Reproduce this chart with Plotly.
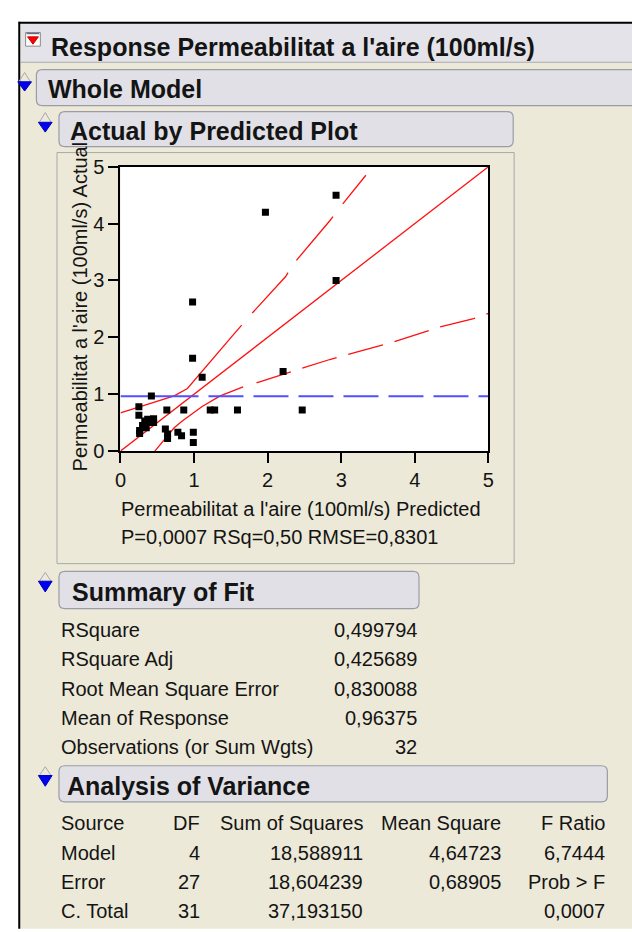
import plotly.graph_objects as go

W, H = 632, 932
FONT = "Liberation Sans, Arial, sans-serif"
TXT = "#141414"

# ---------------- data ----------------
predicted = [2.93, 1.97, 2.93, 0.98, 0.98, 1.11, 2.21, 2.47, 1.59, 1.22, 1.28,
             0.86, 0.63, 0.42, 0.25, 0.25, 0.37, 0.33, 0.40, 0.45, 0.26, 0.26,
             0.35, 0.30, 0.61, 0.64, 0.64, 0.78, 0.83, 0.99, 0.99, 0.45]
actual = [4.50, 4.20, 3.00, 2.62, 1.63, 1.30, 1.40, 0.72, 0.72, 0.72, 0.72,
          0.72, 0.72, 0.97, 0.78, 0.63, 0.56, 0.53, 0.50, 0.57, 0.36, 0.31,
          0.41, 0.45, 0.39, 0.30, 0.22, 0.33, 0.27, 0.33, 0.15, 0.50]

fit_x = [0, 5]
fit_y = [0, 5]
mean_response = 0.96375
mean_x = [0, 5]

upper_x = [0.0, 0.29, 0.51, 0.73, 0.91, 1.04, 1.11, 1.33, 1.55, 1.765, 2.245,
           2.356, 2.845, 2.98, 3.335]
upper_y = [0.67, 0.785, 0.88, 0.97, 1.10, 1.30, 1.41, 1.73, 2.07, 2.39, 3.07,
           3.30, 4.05, 4.28, 4.85]
lower_x = [0.467, 0.73, 0.84, 1.11, 1.355, 1.67, 1.87, 2.31, 2.49, 2.845, 3.69,
           4.36, 4.80, 5.0]
lower_y = [0.0, 0.41, 0.53, 0.785, 0.97, 1.13, 1.21, 1.385, 1.46, 1.61, 1.91,
           2.19, 2.33, 2.42]

tick_vals = [0, 1, 2, 3, 4, 5]
tick_text = ["0", "1", "2", "3", "4", "5"]

x_title = "Permeabilitat a l'aire (100ml/s) Predicted"
y_title = "Permeabilitat a l'aire (100ml/s) Actual"
stat_line = "P=0,0007 RSq=0,50 RMSE=0,8301"

summary_labels = ["RSquare", "RSquare Adj", "Root Mean Square Error",
                  "Mean of Response", "Observations (or Sum Wgts)"]
summary_values = ["0,499794", "0,425689", "0,830088", "0,96375", "32"]

anova_header = ["Source", "DF", "Sum of Squares", "Mean Square", "F Ratio"]
anova_source = ["Model", "Error", "C. Total"]
anova_df = ["4", "27", "31"]
anova_ss = ["18,588911", "18,604239", "37,193150"]
anova_ms = ["4,64723", "0,68905", ""]
anova_f = ["6,7444", "Prob > F", "0,0007"]

# ---------------- helpers (page pixel -> paper) ----------------
def px(x):
    return x / W


def py(y):
    return 1 - y / H


def rect(x0, y0, x1, y1, fill=None, line=None, lw=1):
    return dict(type="rect", xref="paper", yref="paper", layer="below",
                x0=px(x0), x1=px(x1), y0=py(y1), y1=py(y0),
                fillcolor=fill if fill else "rgba(0,0,0,0)",
                line=dict(color=line if line else "rgba(0,0,0,0)", width=lw if line else 0))


def seg(x0, y0, x1, y1, color, lw=1):
    return dict(type="line", xref="paper", yref="paper", layer="below",
                x0=px(x0), x1=px(x1), y0=py(y0), y1=py(y1),
                line=dict(color=color, width=lw))


def rounded(x0, y0, x1, y1, r=6, fill="#E0E0E6", line="#9C9CA6"):
    def P(x, y):
        return f"{px(x):.5f},{py(y):.5f}"
    path = (f"M{P(x0 + r, y0)} L{P(x1 - r, y0)} Q{P(x1, y0)} {P(x1, y0 + r)} "
            f"L{P(x1, y1 - r)} Q{P(x1, y1)} {P(x1 - r, y1)} L{P(x0 + r, y1)} "
            f"Q{P(x0, y1)} {P(x0, y1 - r)} L{P(x0, y0 + r)} Q{P(x0, y0)} {P(x0 + r, y0)} Z")
    return dict(type="path", xref="paper", yref="paper", layer="below", path=path,
                fillcolor=fill, line=dict(color=line, width=1.2))


def poly(pts, fill, line=None, lw=1, close=True):
    d = "M" + " L".join(f"{px(x):.5f},{py(y):.5f}" for x, y in pts) + (" Z" if close else "")
    return dict(type="path", xref="paper", yref="paper", layer="below", path=d,
                fillcolor=fill if fill else "rgba(0,0,0,0)",
                line=dict(color=line if line else "rgba(0,0,0,0)", width=lw if line else 0))


def disclosure(cx, top, mid, bottom):
    return [
        poly([(cx - 6, mid), (cx, top), (cx + 6, mid)], None, "#A8A8B0", 1, close=False),
        poly([(cx - 7, mid), (cx + 7, mid), (cx, bottom)], "#0000F0", "#0000C0", 1),
    ]


def txt(x, y, s, size=20, bold=False, anchor="left", angle=0, yanchor="middle"):
    return dict(x=px(x), y=py(y), xref="paper", yref="paper",
                text=f"<b>{s}</b>" if bold else s, showarrow=False,
                xanchor=anchor, yanchor=yanchor, textangle=angle,
                font=dict(family=FONT, size=size, color=TXT))


# plot pixel area (page coordinates)
PX0, PX1 = 116.7, 491.7
PY0, PY1 = 159.5, 450.7

shapes = [
    rect(14, 12, 640, 940, fill="#ECE9D8"),
    rect(15, 13, 640, 52, fill="#E3E3E9"),
    seg(15, 52.5, 640, 52.5, "#A8A8B0", 1),
    seg(13, 12, 640, 12, "#000000", 2),
    seg(13.5, 11, 13.5, 940, "#000000", 2),
    # response icon
    rect(20, 22, 35, 36, fill="#FFFFFF", line="#8A8A8A", lw=1),
    seg(21, 23, 34, 23, "#6A6A80", 1.5),
    poly([(22, 26.5), (33, 26.5), (27.5, 34)], "#FF0000", "#D00000", 1),
    rounded(31, 60, 660, 97),
    rounded(54, 103, 517, 139),
    rect(52, 145, 518, 566, line="#A8A8A8", lw=1),
    rect(PX0, PY0, PX1, PY1, fill="#FFFFFF"),
    rounded(54, 574, 421, 612),
    rounded(54, 773, 613, 810),
]
shapes += disclosure(19, 63, 72.5, 82)
shapes += disclosure(40, 104, 114, 124)
shapes += disclosure(40, 575, 584, 595)
shapes += disclosure(40, 774, 783, 794)

annotations = [
    txt(44, 37, "Response Permeabilitat a l'aire (100ml/s)", 25, True),
    txt(41, 80, "Whole Model", 25, True),
    txt(63, 122.5, "Actual by Predicted Plot", 25, True),
    txt(65, 595, "Summary of Fit", 25, True),
    txt(60, 794, "Analysis of Variance", 25, True),
    txt(115.5, 510, x_title),
    txt(115.5, 539, stat_line),
    txt(75, 474, y_title, angle=-90, anchor="center", yanchor="bottom"),
]

for i, (lab, val) in enumerate(zip(summary_labels, summary_values)):
    y = 634 + 30 * i
    annotations.append(txt(54, y, lab))
    annotations.append(txt(421, y, val, anchor="right"))

col_right = [None, 200, 366, 507, 613]
y0 = 832
annotations.append(txt(54, y0, anova_header[0]))
for j in range(1, 5):
    annotations.append(txt(col_right[j], y0, anova_header[j], anchor="right"))
for i in range(3):
    y = y0 + 30 * (i + 1)
    annotations.append(txt(54, y, anova_source[i]))
    for j, col in zip(range(1, 5), [anova_df, anova_ss, anova_ms, anova_f]):
        if col[i]:
            annotations.append(txt(col_right[j], y, col[i], anchor="right"))

fig = go.Figure()
fig.add_trace(go.Scatter(x=upper_x, y=upper_y, mode="lines", hoverinfo="skip",
                         line=dict(color="#FF1010", width=1.3,
                                   dash="155px,16px,54px,15px,57px,16px,60px,20px")))
fig.add_trace(go.Scatter(x=lower_x, y=lower_y, mode="lines", hoverinfo="skip",
                         line=dict(color="#FF1010", width=1.3,
                                   dash="111px,14px,36px,12px,36px,12px,36px,12px,36px,12px,36px,12px,36px,12px,36px,12px")))
fig.add_trace(go.Scatter(x=fit_x, y=fit_y, mode="lines", hoverinfo="skip",
                         line=dict(color="#FF1010", width=1.3)))
fig.add_trace(go.Scatter(x=mean_x, y=[mean_response] * len(mean_x), mode="lines",
                         hoverinfo="skip",
                         line=dict(color="#5050FF", width=2.2,
                                   dash="78px,10px,35px,10px,35px,10px,35px,10px,35px,10px,35px,10px,35px,10px,35px,10px")))
fig.add_trace(go.Scatter(x=predicted, y=actual, mode="markers",
                         marker=dict(symbol="square", size=7, color="#000000",
                                     line=dict(width=0))))

axis_common = dict(range=[0, 5], tickvals=tick_vals, ticktext=tick_text,
                   showline=True, mirror=True, linecolor="#000000", linewidth=2,
                   ticks="outside", ticklen=10, tickwidth=1.5, tickcolor="#000000",
                   showgrid=False, zeroline=False, fixedrange=True,
                   tickfont=dict(family=FONT, size=20, color=TXT))

fig.update_layout(
    width=W, height=H, margin=dict(l=0, r=0, t=0, b=0),
    paper_bgcolor="#FFFFFF", plot_bgcolor="#FFFFFF", showlegend=False,
    xaxis=dict(domain=[px(PX0), px(PX1)], **axis_common),
    yaxis=dict(domain=[py(PY1), py(PY0)], **axis_common),
    shapes=shapes, annotations=annotations,
)

fig.write_html("out.html")
